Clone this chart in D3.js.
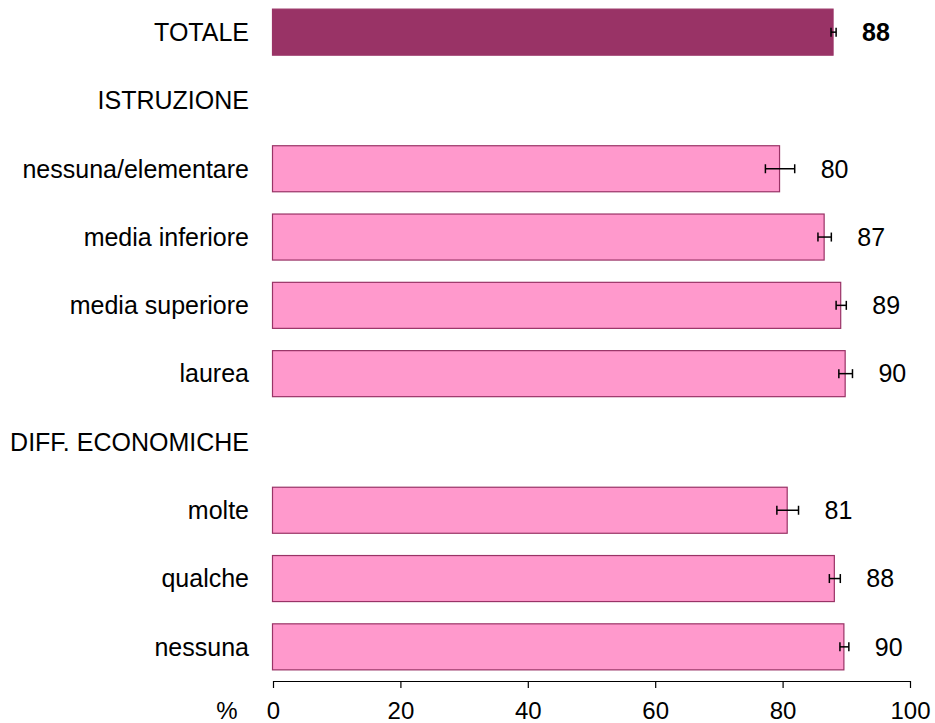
<!DOCTYPE html>
<html>
<head>
<meta charset="utf-8">
<script src="https://cdn.jsdelivr.net/npm/d3@7"></script>
<style>
  body { margin: 0; background: #fff; }
  svg text { font-family: "Liberation Sans", Arial, sans-serif; fill: #000; }
</style>
</head>
<body>
<script>
// rows from top to bottom; headings have no value
var categories = ["TOTALE", "ISTRUZIONE", "nessuna/elementare", "media inferiore",
  "media superiore", "laurea", "DIFF. ECONOMICHE", "molte", "qualche", "nessuna"];
var values = [88.0, null, 79.6, 86.6, 89.2, 89.9, null, 80.8, 88.2, 89.7];
var errors = [0.4, null, 2.3, 1.05, 0.8, 1.07, null, 1.7, 0.86, 0.7];
var xTicks = [0, 20, 40, 60, 80, 100];
var axisLabel = "%";

var width = 935, height = 723;
var x0 = 273, x1 = 910;

var svg = d3.select("body").append("svg")
  .attr("width", width)
  .attr("height", height);

var x = d3.scaleLinear().domain([0, 100]).range([x0, x1]);
var y = d3.scaleBand().domain(categories).range([-2, 681])
  .paddingInner(0.326).paddingOuter(0.163);

var rows = categories.map(function(c, i) {
  return { cat: c, value: values[i], err: errors[i], total: i === 0 };
});

// category labels
svg.selectAll(".cat")
  .data(rows)
  .enter().append("text")
  .attr("class", "cat")
  .attr("x", 249)
  .attr("y", function(d) { return y(d.cat) + y.bandwidth() / 2; })
  .attr("dy", "0.35em")
  .attr("text-anchor", "end")
  .style("font-size", "25px")
  .text(function(d) { return d.cat; });

var withVal = rows.filter(function(d) { return d.value != null; });

// bars
svg.selectAll(".bar")
  .data(withVal)
  .enter().append("rect")
  .attr("class", "bar")
  .attr("x", x(0) - 0.5)
  .attr("y", function(d) { return y(d.cat); })
  .attr("width", function(d) { return x(d.value) - x(0); })
  .attr("height", y.bandwidth())
  .style("fill", function(d) { return d.total ? "#993366" : "#FF99CC"; })
  .style("stroke", "#993366")
  .style("stroke-width", 1.2);

// error bars
var eb = svg.selectAll(".err")
  .data(withVal)
  .enter().append("g")
  .attr("class", "err")
  .style("stroke", "#000")
  .style("stroke-width", 1.5);

eb.append("line")
  .attr("x1", function(d) { return x(d.value - d.err); })
  .attr("x2", function(d) { return x(d.value + d.err); })
  .attr("y1", function(d) { return y(d.cat) + y.bandwidth() / 2; })
  .attr("y2", function(d) { return y(d.cat) + y.bandwidth() / 2; });

[-1, 1].forEach(function(s) {
  eb.append("line")
    .attr("x1", function(d) { return x(d.value + s * d.err); })
    .attr("x2", function(d) { return x(d.value + s * d.err); })
    .attr("y1", function(d) { return y(d.cat) + y.bandwidth() / 2 - 4.5; })
    .attr("y2", function(d) { return y(d.cat) + y.bandwidth() / 2 + 4.5; });
});

// value labels
svg.selectAll(".val")
  .data(withVal)
  .enter().append("text")
  .attr("class", "val")
  .attr("x", function(d) { return x(d.value + d.err) + 26; })
  .attr("y", function(d) { return y(d.cat) + y.bandwidth() / 2; })
  .attr("dy", "0.35em")
  .style("font-size", "25px")
  .style("font-weight", function(d) { return d.total ? "bold" : "normal"; })
  .text(function(d) { return Math.round(d.value); });

// x axis
var axis = svg.append("g")
  .attr("transform", "translate(0,681)")
  .call(d3.axisBottom(x).tickValues(xTicks).tickSize(7).tickPadding(14).tickSizeOuter(0));
axis.select(".domain").style("stroke", "#000").style("stroke-width", 1.2);
axis.selectAll(".tick line").style("stroke", "#000").style("stroke-width", 1.2);
axis.selectAll(".tick text")
  .style("font-family", "'Liberation Sans', Arial, sans-serif")
  .style("font-size", "24px");

svg.append("text")
  .attr("x", 227)
  .attr("y", 711)
  .attr("dy", "0.35em")
  .attr("text-anchor", "middle")
  .style("font-size", "24px")
  .text(axisLabel);
</script>
</body>
</html>
